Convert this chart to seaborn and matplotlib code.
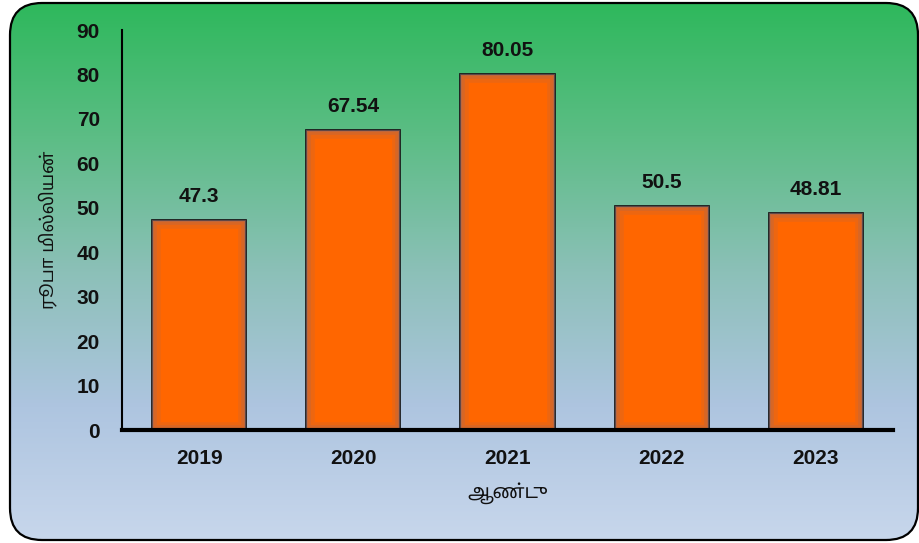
import numpy as np
import pandas as pd
import seaborn as sns
import matplotlib.pyplot as plt
from matplotlib.patches import FancyBboxPatch, Rectangle
from matplotlib.colors import LinearSegmentedColormap

years = ['2019', '2020', '2021', '2022', '2023']
values = [47.3, 67.54, 80.05, 50.5, 48.81]
value_labels = ['47.3', '67.54', '80.05', '50.5', '48.81']
y_label = 'ரூபா மில்லியன்'
x_label = 'ஆண்டு'

W, H = 920, 543


def main():
    sns.set_theme(style='white')
    plt.rcParams['font.family'] = ['Liberation Sans', 'Noto Sans Tamil', 'DejaVu Sans']
    plt.rcParams['font.weight'] = 'bold'

    fig = plt.figure(figsize=(W / 100, H / 100), dpi=100)
    fig.patch.set_facecolor('white')

    # background panel: rounded box with green -> light blue gradient
    bg = fig.add_axes([0, 0, 1, 1], zorder=0)
    bg.set_xlim(0, W)
    bg.set_ylim(0, H)
    bg.axis('off')
    box = FancyBboxPatch((10, 3), 908, 537, boxstyle='round,pad=0,rounding_size=32',
                         facecolor='none', edgecolor='black', linewidth=1.6, zorder=3)
    bg.add_patch(box)
    cmap = LinearSegmentedColormap.from_list('bg', ['#c8d7ec', '#aec5e0', '#8cc0b8', '#5cbd85', '#2db85b'])
    grad = np.linspace(0, 1, 256).reshape(-1, 1)
    im = bg.imshow(grad, extent=[0, W, 0, H], origin='lower', aspect='auto', cmap=cmap, zorder=1)
    im.set_clip_path(box)

    ax = fig.add_axes([122 / W, 1 - 430 / H, (893 - 122) / W, (430 - 30) / H], zorder=1)
    ax.set_facecolor('none')
    df = pd.DataFrame({'year': years, 'value': values})
    sns.barplot(data=df, x='year', y='value', color='#ff6600', saturation=1,
                width=0.61, edgecolor='#1a1a1a', linewidth=1.3, ax=ax)

    # soft darker rim inside each bar
    for p in ax.patches:
        for lw, a in [(12, 0.15), (7, 0.22), (3, 0.3)]:
            r = Rectangle(p.get_xy(), p.get_width(), p.get_height(), facecolor='none',
                          edgecolor='#8a6a70', linewidth=lw, alpha=a, zorder=p.get_zorder() + 0.1)
            ax.add_patch(r)
            r.set_clip_path(p)

    for i, (v, lab) in enumerate(zip(values, value_labels)):
        ax.annotate(lab, (i, v), xytext=(0, 10), textcoords='offset points',
                    ha='center', va='bottom', fontsize=15, fontweight='bold', color='#111111')

    ax.set_xlim(-0.5, 4.5)
    ax.set_ylim(0, 90)
    ax.set_yticks(range(0, 91, 10))
    ax.tick_params(axis='both', length=0, labelsize=15, colors='#111111')
    ax.tick_params(axis='y', pad=16)
    ax.tick_params(axis='x', pad=14)
    for lab in ax.get_xticklabels() + ax.get_yticklabels():
        lab.set_fontweight('bold')

    for s in ['top', 'right']:
        ax.spines[s].set_visible(False)
    ax.spines['left'].set_color('black')
    ax.spines['left'].set_linewidth(1.5)
    ax.spines['bottom'].set_color('black')
    ax.spines['bottom'].set_linewidth(3)

    ax.set_xlabel(x_label, fontsize=14, fontweight='bold', labelpad=10, color='#111111')
    ax.set_ylabel(y_label, fontsize=13, fontweight='bold', labelpad=14, color='#111111')

    fig.savefig('out.png', dpi=100)


if __name__ == '__main__':
    main()
